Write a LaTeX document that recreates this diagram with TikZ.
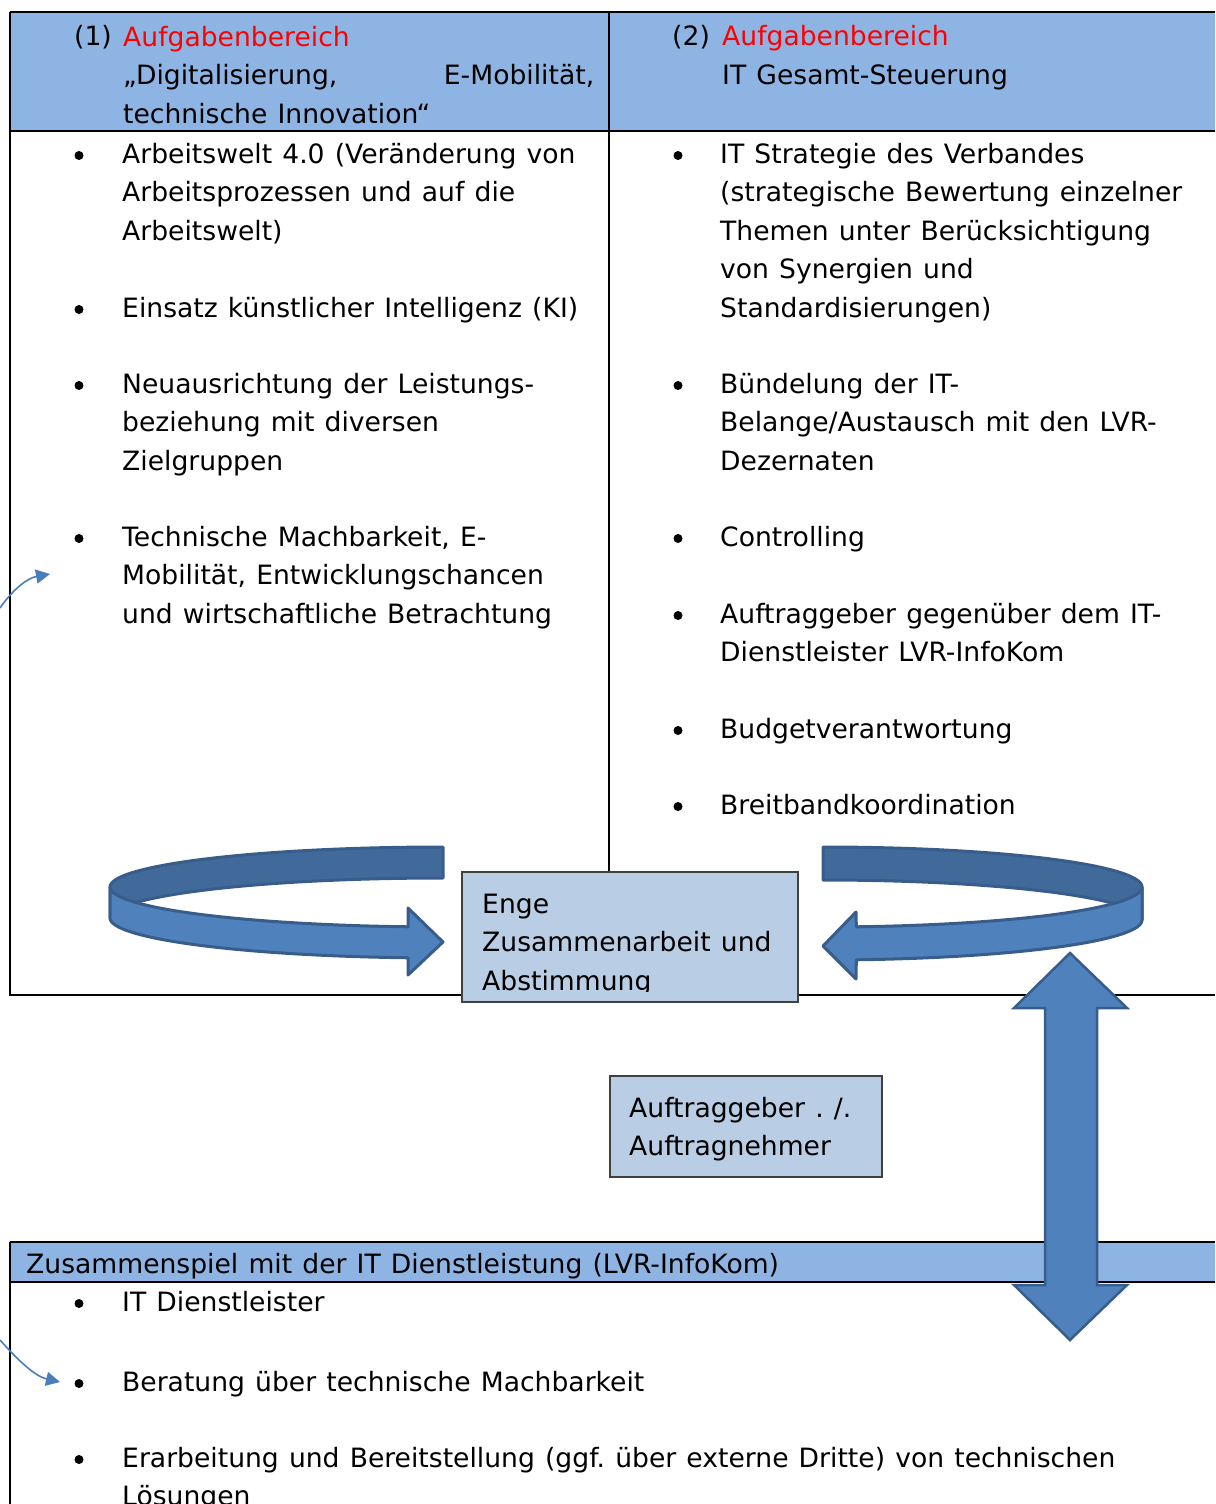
\documentclass[tikz,border=0pt]{standalone}
\usepackage{fontspec}
\setmainfont{DejaVu Sans}[WordSpace=1.2]
\usepackage{tikz}
\usetikzlibrary{arrows.meta, positioning}
\usepackage{xcolor}
\frenchspacing
\definecolor{HeadBlue}{HTML}{8EB4E3}
\definecolor{BoxBlue}{HTML}{B9CDE5}
\definecolor{RibbonFront}{HTML}{4F81BD}
\definecolor{RibbonBack}{HTML}{41699A}
\definecolor{RibbonLine}{HTML}{385D8A}
\definecolor{LinkBlue}{HTML}{4A7EBB}
\definecolor{BoxLine}{HTML}{404040}
\definecolor{TitleRed}{HTML}{FF0000}
\tikzset{%
  table_line/.style={%
    draw=black,%
    line width=2.2pt,%
  },
  head_fill/.style={%
    fill=HeadBlue,%
  },
  item/.style={%
    anchor=base west,%
    inner sep=0pt,%
    align=left,%
    font={\fontsize{26.6}{38.5}\selectfont},%
  },
  bullet_dot/.style={%
    circle,%
    fill=black,%
    inner sep=0pt,%
    minimum size=9pt,%
  },
  info_block/.style={%
    rectangle,%
    anchor=north west,%
    fill=BoxBlue,%
    draw=BoxLine,%
    line width=1.5pt,%
    inner sep=0pt,%
  },
  ribbon_front/.style={%
    fill=RibbonFront,%
    draw=RibbonLine,%
    line width=3pt,%
    line join=round,%
  },
  ribbon_back/.style={%
    fill=RibbonBack,%
    draw=RibbonLine,%
    line width=3pt,%
    line join=round,%
  },
  link/.style={%
    draw=LinkBlue,%
    line width=1.6pt,%
    -{Triangle[length=14pt, width=14pt]},%
  },
}

\begin{document}
\begin{tikzpicture}[x=1pt, y=-1pt]
  \useasboundingbox (0,0) rectangle (1215,1504);

  % header bands
  \fill[head_fill] (10,12) rectangle (1215,131);
  \fill[head_fill] (10,1242) rectangle (1215,1282);

  % table rules
  \draw[table_line] (10,12) -- (1215,12);
  \draw[table_line] (10,131) -- (1215,131);
  \draw[table_line] (10,12) -- (10,995) -- (1215,995);
  \draw[table_line] (609,12) -- (609,871);
  \draw[table_line] (10,1242) -- (1215,1242);
  \draw[table_line] (10,1282) -- (1215,1282);
  \draw[table_line] (10,1242) -- (10,1504);

  % column heads (multi-line nodes sit on their last baseline)
  \node[item] (num_a) at (74,46) {(1)};
  \node[item] (head_a) at (123,123) {\textcolor{TitleRed}{Aufgabenbereich}\\\hbox to 471pt{„Digitalisierung,\hfill E-Mobilität,}\\technische Innovation“};
  \node[item] (num_b) at (672,46) {(2)};
  \node[item] (head_b) at (722,84.5) {\textcolor{TitleRed}{Aufgabenbereich}\\IT Gesamt-Steuerung};

  % left column
  \node[item] (left_a) at (122,240) {Arbeitswelt 4.0 (Veränderung von\\Arbeitsprozessen und auf die\\Arbeitswelt)};
  \node[item] (left_b) at (122,317) {Einsatz künstlicher Intelligenz (KI)};
  \node[item] (left_c) at (122,470) {Neuausrichtung der Leistungs-\\beziehung mit diversen\\Zielgruppen};
  \node[item] (left_d) at (122,623) {Technische Machbarkeit, E-\\Mobilität, Entwicklungschancen\\und wirtschaftliche Betrachtung};
  \foreach \y in {163,317,393,546}
    \node[bullet_dot] at (79,\y-7.5) {};

  % right column
  \node[item] (right_a) at (720,317) {IT Strategie des Verbandes\\(strategische Bewertung einzelner\\Themen unter Berücksichtigung\\von Synergien und\\Standardisierungen)};
  \node[item] (right_b) at (720,470) {Bündelung der IT-\\Belange/Austausch mit den LVR-\\Dezernaten};
  \node[item] (right_c) at (720,546) {Controlling};
  \node[item] (right_d) at (720,661.5) {Auftraggeber gegenüber dem IT-\\Dienstleister LVR-InfoKom};
  \node[item] (right_e) at (720,738) {Budgetverantwortung};
  \node[item] (right_f) at (720,814) {Breitbandkoordination};
  \foreach \y in {163,393,546,623,738,814}
    \node[bullet_dot] at (678,\y-7.5) {};

  % lower table
  \node[item] (foot_head) at (26,1273) {Zusammenspiel mit der IT Dienstleistung (LVR-InfoKom)};
  \node[item] (foot_a) at (122,1311) {IT Dienstleister};
  \node[item] (foot_b) at (122,1391) {Beratung über technische Machbarkeit};
  \node[item] (foot_c) at (122,1505.5) {Erarbeitung und Bereitstellung (ggf. über externe Dritte) von technischen\\Lösungen};
  \foreach \y in {1311,1391,1467}
    \node[bullet_dot] at (79,\y-7.5) {};

  % boxes
  \node[info_block, minimum width=336pt, minimum height=130pt] (enge) at (461,871) {};
  \begin{scope}
    \clip (462,872) rectangle (796,991);
    \node[item] (enge_txt) at ([xshift=21pt, yshift=-119pt]enge.north west) {Enge\\Zusammenarbeit und\\Abstimmung};
  \end{scope}
  \node[info_block, minimum width=272pt, minimum height=101pt] (auftrag) at (609,1075) {};
  \node[item] (auftrag_txt) at ([xshift=20pt, yshift=-80.5pt]auftrag.north west) {Auftraggeber . /.\\Auftragnehmer};

  % left ribbon arrow
  \draw[ribbon_back] plot[domain=270:180, samples=60, variable=\t] ({443+333*cos(\t)},{887+40*sin(\t)})
    -- plot[domain=180:270, samples=60, variable=\t] ({443+333*cos(\t)},{918+40*sin(\t)}) -- cycle;
  \draw[ribbon_front] plot[domain=180:96, samples=60, variable=\t] ({443+333*cos(\t)},{887+40*sin(\t)})
    -- (408,908) -- (443,942) -- (408,975)
    -- plot[domain=96:180, samples=60, variable=\t] ({443+333*cos(\t)},{918+40*sin(\t)}) -- cycle;

  % right ribbon arrow
  \draw[ribbon_back] plot[domain=-90:0, samples=60, variable=\t] ({823+319*cos(\t)},{887+40*sin(\t)})
    -- plot[domain=0:-90, samples=60, variable=\t] ({823+319*cos(\t)},{920+40*sin(\t)}) -- cycle;
  \draw[ribbon_front] plot[domain=0:84, samples=60, variable=\t] ({823+319*cos(\t)},{887+40*sin(\t)})
    -- (856,912) -- (823,946) -- (856,979)
    -- plot[domain=84:0, samples=60, variable=\t] ({823+319*cos(\t)},{920+40*sin(\t)}) -- cycle;

  % up-down arrow
  \draw[ribbon_front, line width=2.5pt, line join=miter] (1070,953) -- (1127,1008) -- (1097,1008) -- (1097,1285)
    -- (1127,1285) -- (1070,1340) -- (1014,1285) -- (1045,1285) -- (1045,1008) -- (1014,1008) -- cycle;

  % thin links from the margin
  \coordinate (link_a_in) at (0,608);
  \coordinate (link_a_tip) at (50,574);
  \draw[link] (link_a_in) .. controls (14,588) and (28,578) .. (link_a_tip);
  \coordinate (link_b_in) at (0,1340);
  \coordinate (link_b_tip) at (60,1382);
  \draw[link] (link_b_in) .. controls (16,1358) and (34,1376) .. (link_b_tip);

\end{tikzpicture}
\end{document}
